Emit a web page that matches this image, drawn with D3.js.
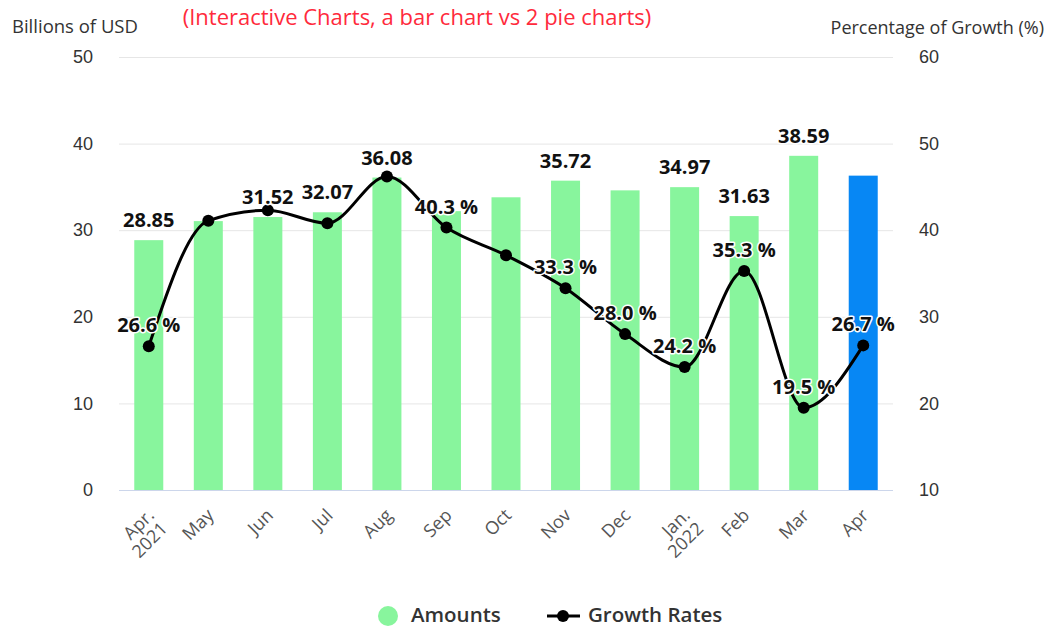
<!DOCTYPE html>
<html>
<head>
<meta charset="utf-8">
<script src="https://cdn.jsdelivr.net/npm/d3@7"></script>
<style>
  body { margin: 0; background: #fff; }
  svg { font-family: "Open Sans", "Noto Sans", sans-serif; }
  .grid line { stroke: #e6e6e6; }
  .lbl { font-weight: bold; font-size: 20px; fill: #111; stroke: #fff; stroke-width: 3px; paint-order: stroke; stroke-linejoin: round; }
</style>
</head>
<body>
<div id="chart"></div>
<script>
// categories (x axis)
const months = ['Apr.|2021', 'May', 'Jun', 'Jul', 'Aug', 'Sep', 'Oct', 'Nov', 'Dec', 'Jan.|2022', 'Feb', 'Mar', 'Apr'];
// amounts, billions of USD
const amounts = [28.85, 31.05, 31.52, 32.07, 36.08, 32.2, 33.8, 35.72, 34.6, 34.97, 31.63, 38.59, 36.3];
// growth, percent
const growth = [26.6, 41.1, 42.3, 40.8, 46.2, 40.3, 37.1, 33.3, 28.0, 24.2, 35.3, 19.5, 26.7];
// which labels survive overlap hiding
const showAmount = [1, 0, 1, 1, 1, 0, 0, 1, 0, 1, 1, 1, 0];
const showGrowth = [1, 0, 0, 0, 0, 1, 0, 1, 1, 1, 1, 1, 1];
const leftTicks = [0, 10, 20, 30, 40, 50];
const rightTicks = [10, 20, 30, 40, 50, 60];

const W = 1047, H = 629;
const m = {left: 119, right: 893, top: 57, bottom: 490};

const svg = d3.select('#chart').append('svg')
  .attr('width', W).attr('height', H);

const x = d3.scaleBand().domain(d3.range(months.length)).range([m.left, m.right]);
const y = d3.scaleLinear().domain([0, 50]).range([m.bottom, m.top]);
const y2 = d3.scaleLinear().domain([10, 60]).range([m.bottom, m.top]);
const cx = i => x(i) + x.bandwidth() / 2;

// grid
svg.append('g').attr('class', 'grid')
  .selectAll('line').data(leftTicks.slice(1)).enter().append('line')
  .attr('x1', m.left).attr('x2', m.right)
  .attr('y1', d => y(d) + 0.5).attr('y2', d => y(d) + 0.5);

// left axis
svg.append('g')
  .attr('transform', `translate(93,0)`)
  .call(d3.axisLeft(y).tickValues(leftTicks).tickSize(0).tickPadding(0))
  .call(g => g.select('.domain').remove())
  .selectAll('text').attr('font-size', 18).attr('fill', '#333');

// right axis
svg.append('g')
  .attr('transform', `translate(919,0)`)
  .call(d3.axisRight(y2).tickValues(rightTicks).tickSize(0).tickPadding(0))
  .call(g => g.select('.domain').remove())
  .selectAll('text').attr('font-size', 18).attr('fill', '#333');

svg.selectAll('.tick').attr('font-family', null);

// bars
const barW = 29;
svg.append('g').selectAll('rect').data(amounts).enter().append('rect')
  .attr('x', (d, i) => cx(i) - barW / 2)
  .attr('y', d => y(d))
  .attr('width', barW)
  .attr('height', d => y(0) - y(d))
  .attr('fill', (d, i) => i === amounts.length - 1 ? '#0787f4' : '#88f59d');

// x axis line
svg.append('line')
  .attr('x1', m.left).attr('x2', m.right)
  .attr('y1', m.bottom + 0.5).attr('y2', m.bottom + 0.5)
  .attr('stroke', '#ccd6eb');

// x labels
const xl = svg.append('g').selectAll('text').data(months).enter().append('text')
  .attr('transform', (d, i) => `translate(${cx(i) + 2},${m.bottom + 22}) rotate(-45)`)
  .attr('text-anchor', 'end')
  .attr('font-size', 18).attr('fill', '#555');
xl.each(function(d) {
  const parts = d.split('|');
  const t = d3.select(this);
  parts.forEach((p, k) => {
    t.append('tspan').attr('x', 0).attr('dy', k === 0 ? '0.35em' : '1.05em').text(p);
  });
});

// growth line
const line = d3.line()
  .x((d, i) => cx(i))
  .y(d => y2(d))
  .curve(d3.curveMonotoneX);
svg.append('path').datum(growth)
  .attr('d', line)
  .attr('fill', 'none').attr('stroke', '#000').attr('stroke-width', 3);
svg.append('g').selectAll('circle').data(growth).enter().append('circle')
  .attr('cx', (d, i) => cx(i)).attr('cy', d => y2(d)).attr('r', 6)
  .attr('fill', '#000');

// data labels
svg.append('g').selectAll('text').data(amounts.map((v, i) => [v, i]).filter(d => showAmount[d[1]]))
  .enter().append('text').attr('class', 'lbl')
  .attr('x', d => cx(d[1])).attr('y', d => y(d[0]) - 13)
  .attr('text-anchor', 'middle')
  .text(d => d[0].toFixed(2));
svg.append('g').selectAll('text').data(growth.map((v, i) => [v, i]).filter(d => showGrowth[d[1]]))
  .enter().append('text').attr('class', 'lbl')
  .attr('x', d => cx(d[1])).attr('y', d => y2(d[0]) - 14)
  .attr('text-anchor', 'middle')
  .text(d => d[0].toFixed(1) + ' %');

// titles
svg.append('text').attr('x', 12).attr('y', 33)
  .attr('font-size', 18.5).attr('fill', '#333').text('Billions of USD');
svg.append('text').attr('x', 1044).attr('y', 34).attr('text-anchor', 'end')
  .attr('font-size', 18).attr('fill', '#333').text('Percentage of Growth (%)');
svg.append('text').attr('x', 417).attr('y', 25).attr('text-anchor', 'middle')
  .attr('font-size', 22).attr('fill', '#ff2a3c')
  .text('(Interactive Charts, a bar chart vs 2 pie charts)');

// legend
const lg = svg.append('g');
lg.append('circle').attr('cx', 388).attr('cy', 616).attr('r', 10).attr('fill', '#88f59d');
lg.append('text').attr('x', 411).attr('y', 622).attr('font-size', 20.5).attr('font-weight', 600)
  .attr('fill', '#333').text('Amounts');
lg.append('line').attr('x1', 547).attr('x2', 580).attr('y1', 616).attr('y2', 616)
  .attr('stroke', '#000').attr('stroke-width', 3);
lg.append('circle').attr('cx', 563).attr('cy', 616).attr('r', 6).attr('fill', '#000');
lg.append('text').attr('x', 588).attr('y', 622).attr('font-size', 20.5).attr('font-weight', 600)
  .attr('fill', '#333').text('Growth Rates');
</script>
</body>
</html>
